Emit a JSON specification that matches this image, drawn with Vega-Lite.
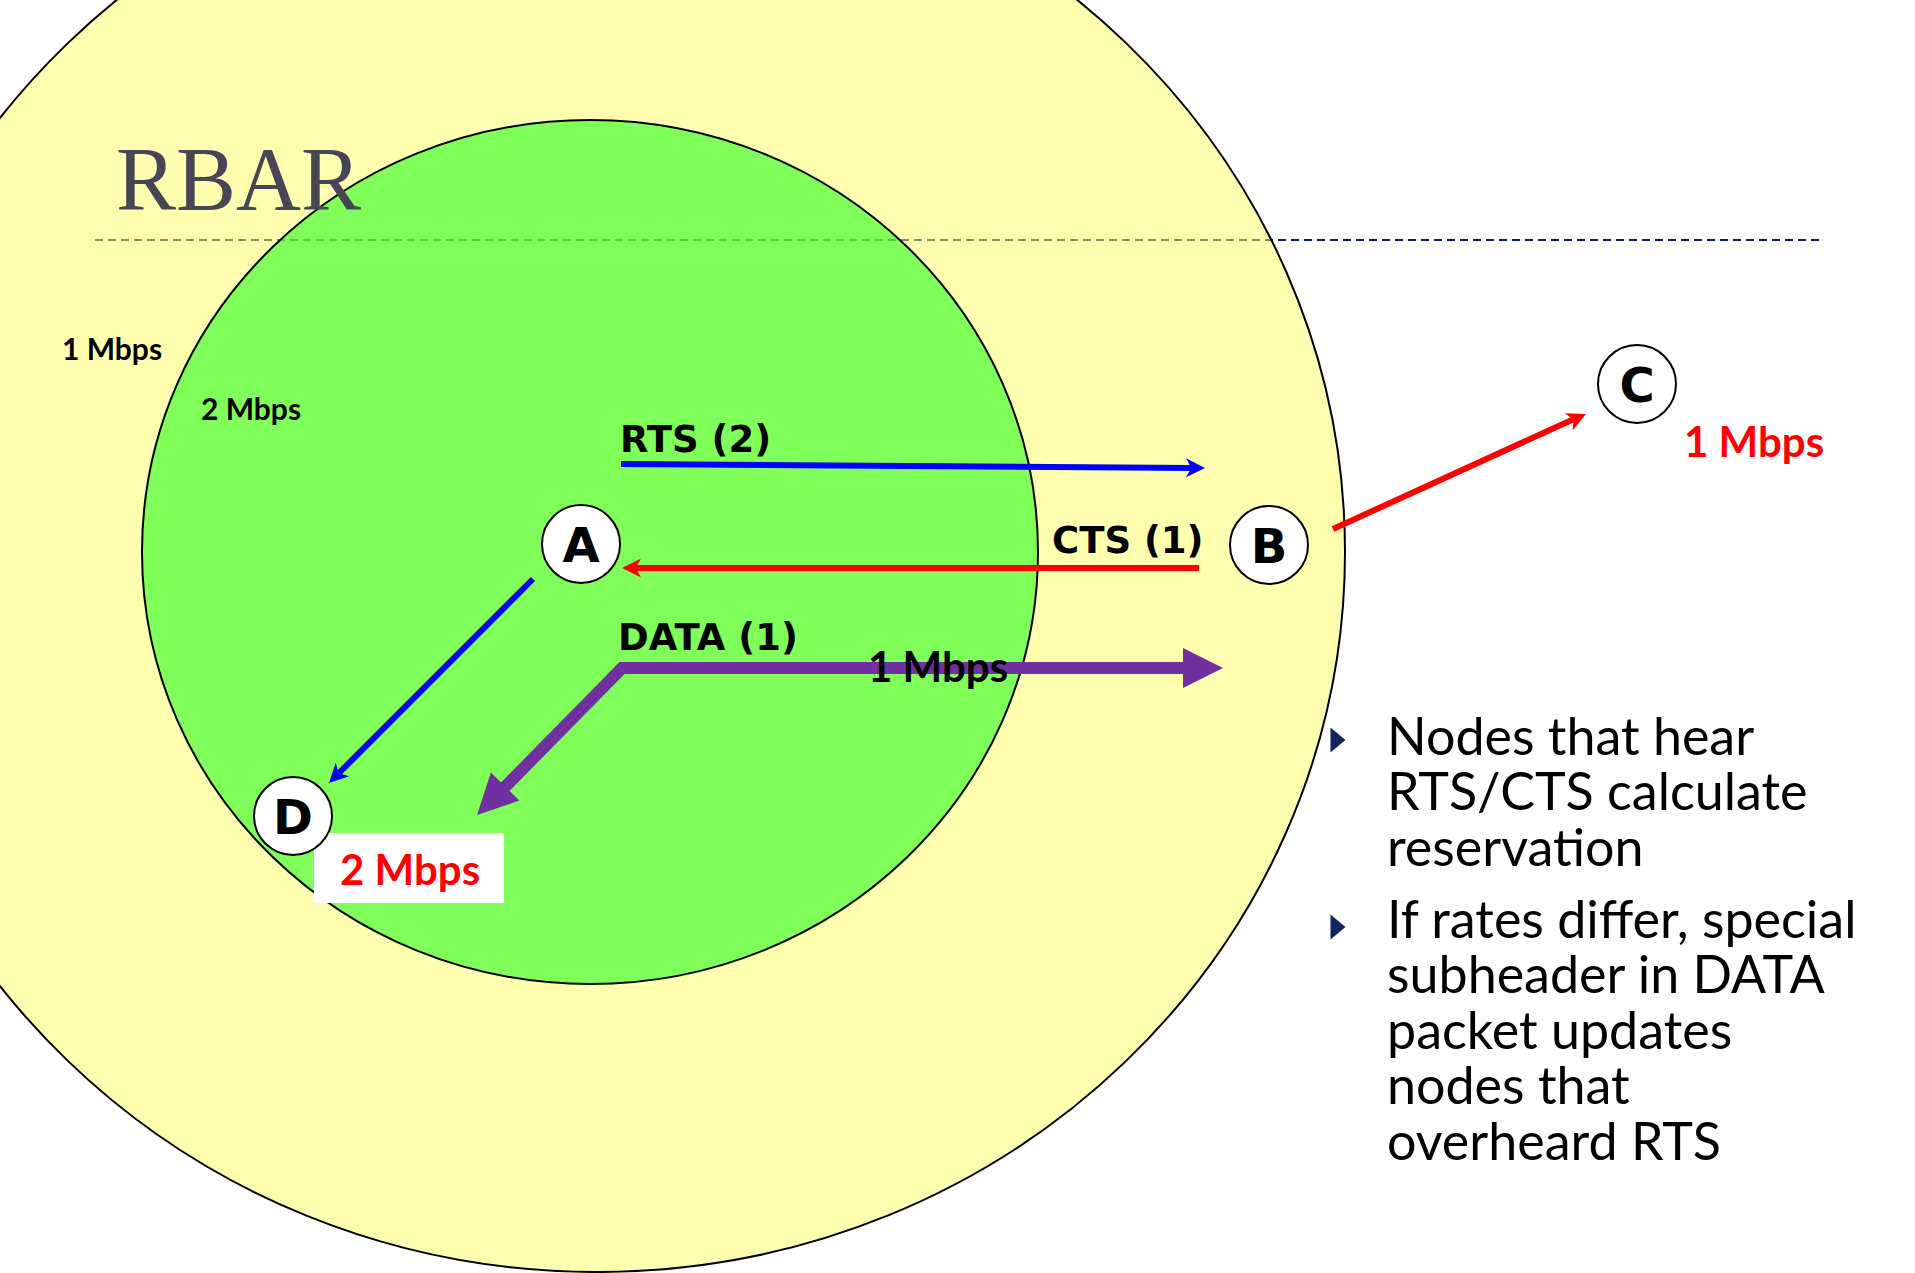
{
  "$schema": "https://vega.github.io/schema/vega-lite/v6.json",
  "width": 1915,
  "height": 1273,
  "autosize": {"type": "none"},
  "padding": 0,
  "background": "white",
  "view": {"stroke": null},
  "datasets": {
    "divider": [{"x": 95, "x2": 1823, "y": 240}],
    "outer": [{"zone": "1 Mbps range", "x": 597, "y": 552}],
    "inner": [{"zone": "2 Mbps range", "x": 590, "y": 552}],
    "shafts": [
      {"arrow": "RTS A-B", "msg": "RTS", "seq": 0, "x": 621, "y": 464},
      {"arrow": "RTS A-B", "msg": "RTS", "seq": 1, "x": 1192, "y": 468},
      {"arrow": "CTS B-A", "msg": "CTS", "seq": 0, "x": 1199, "y": 568},
      {"arrow": "CTS B-A", "msg": "CTS", "seq": 1, "x": 636, "y": 568},
      {"arrow": "RTS A-D", "msg": "RTS", "seq": 0, "x": 533, "y": 579},
      {"arrow": "RTS A-D", "msg": "RTS", "seq": 1, "x": 339, "y": 773},
      {"arrow": "CTS B-C", "msg": "CTS", "seq": 0, "x": 1333, "y": 529},
      {"arrow": "CTS B-C", "msg": "CTS", "seq": 1, "x": 1574, "y": 419}
    ],
    "dataShaft": [
      {"arrow": "DATA", "msg": "DATA", "seq": 0, "x": 1190, "y": 668},
      {"arrow": "DATA", "msg": "DATA", "seq": 1, "x": 622, "y": 668},
      {"arrow": "DATA", "msg": "DATA", "seq": 2, "x": 503, "y": 789}
    ],
    "thinHeads": [
      {"msg": "RTS", "x": 1205, "y": 468, "angle": 0.4},
      {"msg": "CTS", "x": 622, "y": 568, "angle": 180},
      {"msg": "RTS", "x": 329, "y": 783, "angle": 135},
      {"msg": "CTS", "x": 1586, "y": 414, "angle": -24.4}
    ],
    "thickHeads": [
      {"msg": "DATA", "x": 1223, "y": 668, "angle": 0},
      {"msg": "DATA", "x": 477, "y": 815, "angle": 134.6}
    ],
    "box": [{"x": 314, "x2": 504, "y": 833, "y2": 903}],
    "nodes": [
      {"node": "A", "x": 581, "y": 544},
      {"node": "B", "x": 1269, "y": 545},
      {"node": "C", "x": 1637, "y": 384},
      {"node": "D", "x": 293, "y": 816}
    ],
    "labels": [
      {"text": "1 Mbps", "kind": "small", "x": 62, "y": 360},
      {"text": "2 Mbps", "kind": "small", "x": 201, "y": 420},
      {"text": "RTS (2)", "kind": "medium", "x": 620, "y": 452},
      {"text": "CTS (1)", "kind": "medium", "x": 1052, "y": 553},
      {"text": "DATA (1)", "kind": "medium", "x": 618, "y": 650},
      {"text": "1 Mbps", "kind": "rate", "x": 868, "y": 682},
      {"text": "1 Mbps", "kind": "red", "x": 1684, "y": 457},
      {"text": "2 Mbps", "kind": "red", "x": 340, "y": 885}
    ],
    "title": [{"text": "RBAR", "x": 116, "y": 210}],
    "bullets": [{"x": 1338, "y": 740}, {"x": 1338, "y": 927}],
    "body": [
      {"line": 1, "text": "Nodes that hear", "x": 1387, "y": 755},
      {"line": 2, "text": "RTS/CTS calculate", "x": 1387, "y": 810},
      {"line": 3, "text": "reservation", "x": 1387, "y": 866},
      {"line": 4, "text": "If rates differ, special", "x": 1387, "y": 938},
      {"line": 5, "text": "subheader in DATA", "x": 1387, "y": 993},
      {"line": 6, "text": "packet updates", "x": 1387, "y": 1049},
      {"line": 7, "text": "nodes that", "x": 1387, "y": 1104},
      {"line": 8, "text": "overheard RTS", "x": 1387, "y": 1160}
    ]
  },
  "encoding": {
    "x": {"field": "x", "type": "quantitative", "scale": {"domain": [0, 1915], "nice": false, "zero": false}, "axis": null},
    "y": {"field": "y", "type": "quantitative", "scale": {"domain": [0, 1273], "nice": false, "zero": false, "reverse": true}, "axis": null}
  },
  "layer": [
    {
      "data": {"name": "divider"},
      "mark": {"type": "rule", "color": "#0B1F5B", "strokeWidth": 2, "strokeDash": [8, 5]},
      "encoding": {"x2": {"field": "x2"}}
    },
    {
      "data": {"name": "outer"},
      "mark": {"type": "point", "filled": true, "shape": "M-1,0 A1,0.9626 0 1,1 1,0 A1,0.9626 0 1,1 -1,0 Z", "size": 2238016, "fill": "#FFFF5F", "fillOpacity": 0.5, "stroke": "black", "strokeWidth": 2, "strokeOpacity": 1}
    },
    {
      "data": {"name": "inner"},
      "mark": {"type": "point", "filled": true, "shape": "M-1,0 A1,0.9643 0 1,1 1,0 A1,0.9643 0 1,1 -1,0 Z", "size": 802816, "fill": "#2BFF21", "fillOpacity": 0.6, "stroke": "black", "strokeWidth": 2, "strokeOpacity": 1}
    },
    {
      "data": {"name": "shafts"},
      "mark": {"type": "line", "strokeWidth": 6, "strokeCap": "butt"},
      "encoding": {
        "detail": {"field": "arrow"},
        "order": {"field": "seq"},
        "color": {"field": "msg", "type": "nominal", "scale": {"domain": ["RTS", "CTS", "DATA"], "range": ["#0000FF", "#FF0000", "#7030A0"]}, "legend": null}
      }
    },
    {
      "data": {"name": "dataShaft"},
      "mark": {"type": "line", "strokeWidth": 12, "strokeCap": "butt", "strokeJoin": "miter"},
      "encoding": {
        "detail": {"field": "arrow"},
        "order": {"field": "seq"},
        "color": {"field": "msg", "type": "nominal", "legend": null}
      }
    },
    {
      "data": {"name": "thinHeads"},
      "mark": {"type": "point", "filled": true, "opacity": 1, "shape": "M0,0 L-1,-0.5 L-0.72,0 L-1,0.5 Z", "size": 1444},
      "encoding": {
        "color": {"field": "msg", "type": "nominal", "legend": null},
        "angle": {"field": "angle", "type": "quantitative", "scale": null}
      }
    },
    {
      "data": {"name": "thickHeads"},
      "mark": {"type": "point", "filled": true, "opacity": 1, "shape": "M0,0 L-1,-0.5 L-1,0.5 Z", "size": 6400},
      "encoding": {
        "color": {"field": "msg", "type": "nominal", "legend": null},
        "angle": {"field": "angle", "type": "quantitative", "scale": null}
      }
    },
    {
      "data": {"name": "box"},
      "mark": {"type": "rect", "color": "white"},
      "encoding": {"x2": {"field": "x2"}, "y2": {"field": "y2"}}
    },
    {
      "data": {"name": "nodes"},
      "mark": {"type": "point", "shape": "circle", "filled": true, "fill": "white", "stroke": "black", "strokeWidth": 2, "size": 6084, "opacity": 1}
    },
    {
      "data": {"name": "nodes"},
      "mark": {"type": "text", "font": "DejaVu Sans", "fontWeight": "bold", "fontSize": 48, "align": "center", "baseline": "alphabetic", "dy": 18, "color": "black"},
      "encoding": {"text": {"field": "node"}}
    },
    {
      "data": {"name": "labels"},
      "transform": [{"filter": "datum.kind === 'small'"}],
      "mark": {"type": "text", "font": "Lato", "fontWeight": "bold", "fontSize": 30, "align": "left", "baseline": "alphabetic", "color": "black"},
      "encoding": {"text": {"field": "text"}}
    },
    {
      "data": {"name": "labels"},
      "transform": [{"filter": "datum.kind === 'medium'"}],
      "mark": {"type": "text", "font": "DejaVu Sans", "fontWeight": "bold", "fontSize": 37, "align": "left", "baseline": "alphabetic", "color": "black"},
      "encoding": {"text": {"field": "text"}}
    },
    {
      "data": {"name": "labels"},
      "transform": [{"filter": "datum.kind === 'rate'"}],
      "mark": {"type": "text", "font": "Lato", "fontWeight": "bold", "fontSize": 42, "align": "left", "baseline": "alphabetic", "color": "black"},
      "encoding": {"text": {"field": "text"}}
    },
    {
      "data": {"name": "labels"},
      "transform": [{"filter": "datum.kind === 'red'"}],
      "mark": {"type": "text", "font": "Lato", "fontWeight": "bold", "fontSize": 42, "align": "left", "baseline": "alphabetic", "color": "#FF0000"},
      "encoding": {"text": {"field": "text"}}
    },
    {
      "data": {"name": "title"},
      "mark": {"type": "text", "font": "Liberation Serif", "fontSize": 90, "align": "left", "baseline": "alphabetic", "color": "#464655"},
      "encoding": {"text": {"field": "text"}}
    },
    {
      "data": {"name": "bullets"},
      "mark": {"type": "point", "filled": true, "shape": "M-0.6,-1 L0.6,0 L-0.6,1 Z", "size": 625, "color": "#0F2461", "opacity": 1}
    },
    {
      "data": {"name": "body"},
      "mark": {"type": "text", "font": "Lato", "fontSize": 52, "align": "left", "baseline": "alphabetic", "color": "black"},
      "encoding": {"text": {"field": "text"}}
    }
  ]
}
